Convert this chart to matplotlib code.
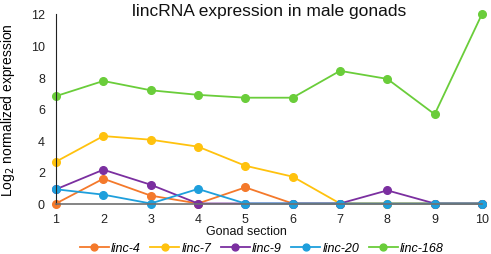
import matplotlib.pyplot as plt

plt.rcParams['font.family'] = ['Liberation Sans', 'DejaVu Sans']

# Data
sections = [1, 2, 3, 4, 5, 6, 7, 8, 9, 10]
linc_4 = [0, 1.57, 0.5, 0, 1.02, 0, 0, 0, 0, 0]
linc_7 = [2.65, 4.27, 4.04, 3.6, 2.39, 1.7, 0, 0, 0, 0]
linc_9 = [0.9, 2.14, 1.19, 0, 0, 0, 0, 0.83, 0, 0]
linc_20 = [0.9, 0.56, 0, 0.92, 0, 0, 0, 0, 0, 0]
linc_168 = [6.8, 7.76, 7.17, 6.88, 6.7, 6.7, 8.4, 7.89, 5.65, 12.0]

series = [
    ('linc-4', linc_4, '#F4792B'),
    ('linc-7', linc_7, '#FFC20E'),
    ('linc-9', linc_9, '#7B2FA0'),
    ('linc-20', linc_20, '#1E9FDC'),
    ('linc-168', linc_168, '#6ACD3A'),
]

W, H = 491, 255
fig = plt.figure(figsize=(W / 100, H / 100), dpi=100)
ax = fig.add_axes([56 / W, 1 - 204.5 / H, 426 / W, 189.5 / H])

for name, vals, col in series:
    ax.plot(sections, vals, color=col, lw=1.3, marker='o', markersize=5.5,
            label=name, clip_on=False)

ax.set_xlim(1, 10)
ax.set_ylim(0, 12)
ax.set_xticks(sections)
ax.set_yticks([0, 2, 4, 6, 8, 10, 12])
ax.tick_params(length=0, labelsize=9, colors='#222222')
ax.tick_params(axis='x', pad=7)
ax.tick_params(axis='y', pad=8)
for s in ['top', 'right']:
    ax.spines[s].set_visible(False)
ax.spines['left'].set_color('#222222')
ax.spines['bottom'].set_color('#707070')
ax.spines['bottom'].set_linewidth(1.2)
ax.set_zorder(1)

ax.set_title('lincRNA expression in male gonads', fontsize=12.5, pad=-1, y=1.0,
             color='#111111')
ax.set_ylabel('Log$_2$ normalized expression', fontsize=10, labelpad=10)
fig.text(246 / W, 1 - 232 / H, 'Gonad section', fontsize=9,
         ha='center', va='center', color='#111111')

leg = fig.legend(loc='center', bbox_to_anchor=(262 / W, 1 - 249 / H), ncol=5,
                 frameon=False, fontsize=9, handlelength=2.3, columnspacing=0.75,
                 handletextpad=0.2, borderaxespad=0, borderpad=0, markerscale=0.9)
for t in leg.get_texts():
    t.set_fontstyle('italic')

fig.savefig('out.png', dpi=100)
